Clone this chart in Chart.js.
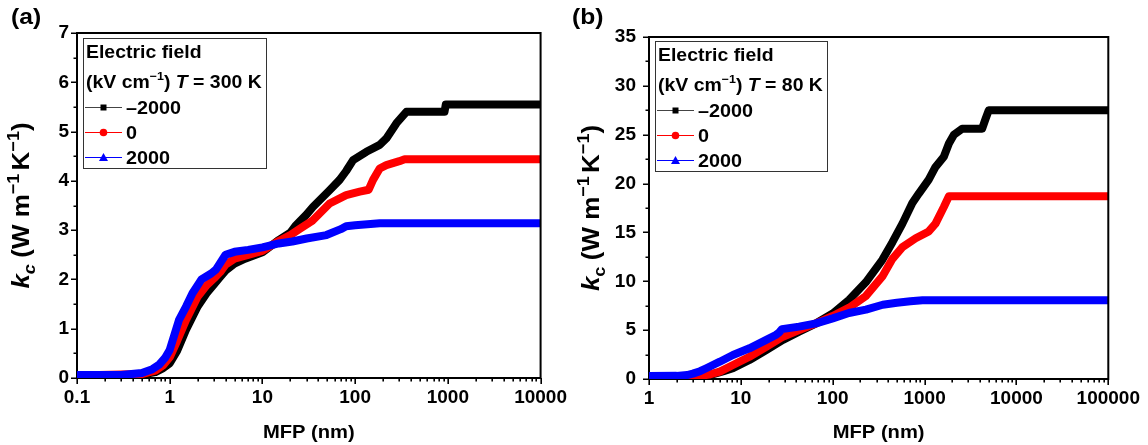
<!DOCTYPE html>
<html>
<head>
<meta charset="utf-8">
<script src="https://cdn.jsdelivr.net/npm/chart.js@4.4.1/dist/chart.umd.min.js"></script>
<style>
  html, body { margin: 0; padding: 0; background: #fff; }
  #wrap { position: relative; width: 1148px; height: 445px; overflow: hidden; background: #fff; }
  .panel { position: absolute; top: 0; height: 445px; }
  canvas { display: block; }
</style>
</head>
<body>
<div id="wrap">
  <div class="panel" style="left:0;width:575px"><canvas id="chartA" width="575" height="445"></canvas></div>
  <div class="panel" style="left:566px;width:582px"><canvas id="chartB" width="582" height="445"></canvas></div>
</div>
<script>
// Electric field series (kV cm^-1)
const fieldLabels = ['\u20132000', '0', '2000'];
const seriesColors = ['#000000', '#ff0000', '#0000ff'];
const seriesMarkers = ['rect', 'circle', 'triangle'];

// (a) T = 300 K : cumulative kc (W m^-1 K^-1) vs MFP (nm)
const mfpA_neg2000 = [0.1, 0.3, 0.5, 0.7, 0.85, 1.0, 1.2, 1.5, 2.0, 2.5, 3.0, 3.5, 4.0, 5.0, 6.5, 10, 15, 20, 23, 30, 35, 53, 68, 80, 95, 132, 184, 217, 279, 357, 920, 950, 10000];
const kcA_neg2000  = [0.05, 0.05, 0.07, 0.12, 0.2, 0.3, 0.55, 0.98, 1.45, 1.72, 1.9, 2.05, 2.18, 2.32, 2.42, 2.55, 2.8, 2.95, 3.1, 3.32, 3.47, 3.81, 4.02, 4.2, 4.42, 4.59, 4.73, 4.86, 5.17, 5.40, 5.40, 5.55, 5.55];

const mfpA_zero = [0.1, 0.5, 0.7, 0.85, 1.0, 1.2, 1.5, 2.0, 2.5, 3.0, 3.5, 4.0, 5.0, 7, 10, 15, 20, 25, 35, 53, 80, 112, 140, 156, 184, 217, 300, 342, 10000];
const kcA_zero  = [0.05, 0.08, 0.15, 0.26, 0.42, 0.75, 1.18, 1.65, 1.88, 2.02, 2.15, 2.3, 2.42, 2.5, 2.58, 2.78, 2.9, 3.02, 3.2, 3.54, 3.71, 3.78, 3.82, 4.02, 4.25, 4.32, 4.4, 4.44, 4.44];

const mfpA_pos2000 = [0.1, 0.3, 0.5, 0.65, 0.77, 0.9, 1.0, 1.26, 1.5, 1.76, 2.2, 2.8, 3.15, 4.0, 5, 7, 10, 15, 21, 30, 49, 70, 80, 100, 184, 10000];
const kcA_pos2000  = [0.06, 0.06, 0.1, 0.18, 0.27, 0.42, 0.57, 1.18, 1.45, 1.72, 2.0, 2.12, 2.2, 2.5, 2.56, 2.6, 2.65, 2.73, 2.77, 2.83, 2.9, 3.02, 3.08, 3.1, 3.14, 3.14];

// (b) T = 80 K
const mfpB_neg2000 = [1, 3.8, 5, 6.5, 8.2, 12.4, 18.9, 28.7, 43, 66, 100, 151, 229, 347, 447, 574, 736, 869, 1110, 1315, 1620, 1840, 2085, 2565, 4225, 4600, 4990, 100000];
const kcB_neg2000  = [0.3, 0.3, 0.5, 0.8, 1.1, 1.94, 2.97, 4.0, 4.85, 5.7, 6.7, 8.1, 9.9, 12.2, 14.0, 15.9, 18.0, 19.0, 20.4, 21.7, 22.75, 24.1, 25.0, 25.6, 25.6, 26.6, 27.5, 27.5];

const mfpB_zero = [1, 3.5, 4.5, 5.9, 8.2, 12.4, 18.9, 28.7, 43, 66, 100, 151, 230, 347, 447, 574, 800, 1110, 1315, 1620, 1840, 100000];
const kcB_zero  = [0.3, 0.3, 0.45, 0.75, 1.43, 2.28, 3.3, 4.33, 5.0, 5.7, 6.45, 7.3, 8.5, 10.5, 12.3, 13.5, 14.4, 15.1, 15.9, 17.6, 18.7, 18.7];

const mfpB_pos2000 = [1, 2, 2.6, 3, 3.6, 4.2, 5.9, 8.2, 12.4, 18.9, 24, 26, 28, 43, 66, 100, 150, 230, 350, 500, 700, 950, 100000];
const kcB_pos2000  = [0.3, 0.32, 0.4, 0.55, 0.8, 1.1, 1.77, 2.46, 3.14, 4.0, 4.5, 4.75, 5.1, 5.36, 5.7, 6.2, 6.75, 7.1, 7.6, 7.8, 7.95, 8.05, 8.05];

// Axis ranges and labelled ticks
const xRangeA = [0.1, 10000];
const xRangeB = [1, 100000];
const yRangeA = [0, 7];
const yRangeB = [0, 35];
const yStepA = 1;
const yStepB = 5;

const FONT = '"Liberation Sans", Arial, Helvetica, sans-serif';
const STRETCH = 1.12;

function pts(xs, ys) { return xs.map((x, i) => ({ x: x, y: ys[i] })); }

function makeDatasets(sets) {
  return sets.map((s, i) => ({
    label: fieldLabels[i],
    data: pts(s[0], s[1]),
    borderColor: seriesColors[i],
    backgroundColor: seriesColors[i],
    pointStyle: seriesMarkers[i],
    borderWidth: 8,
    pointRadius: 0,
    borderJoinStyle: 'round',
    borderCapStyle: 'butt',
    tension: 0,
    order: 2 - i
  }));
}

// rich text helpers (italic, sub/superscript runs)
function runFont(r, size) {
  return (r.italic ? 'italic ' : '') + 'bold ' + size + 'px ' + FONT;
}
function runSize(r, size, k) { return (r.sub || r.sup) ? size * (k || 0.64) : size; }
function runsWidth(ctx, runs, size, k) {
  let w = 0;
  for (const r of runs) {
    ctx.font = runFont(r, runSize(r, size, k));
    w += ctx.measureText(r.t).width + (r.gap || 0);
  }
  return w;
}
function drawRuns(ctx, runs, x, y, size, sx, align, k) {
  const w = runsWidth(ctx, runs, size, k) * sx;
  const x0 = align === 'center' ? x - w / 2 : x;
  ctx.save();
  ctx.translate(x0, y);
  ctx.scale(sx, 1);
  ctx.textAlign = 'left';
  ctx.textBaseline = 'alphabetic';
  let px = 0;
  for (const r of runs) {
    const s = runSize(r, size, k);
    ctx.font = runFont(r, s);
    const dy = r.sub ? size * 0.26 : (r.sup ? -size * 0.42 : 0);
    ctx.fillText(r.t, px, dy);
    px += ctx.measureText(r.t).width + (r.gap || 0);
  }
  ctx.restore();
  return w;
}

function drawMarker(ctx, style, x, y, color) {
  ctx.fillStyle = color;
  ctx.beginPath();
  if (style === 'rect') {
    ctx.rect(x - 3, y - 3, 6, 6);
  } else if (style === 'circle') {
    ctx.arc(x, y, 3.8, 0, Math.PI * 2);
  } else {
    ctx.moveTo(x, y - 4.5);
    ctx.lineTo(x + 4.5, y + 3.5);
    ctx.lineTo(x - 4.5, y + 3.5);
    ctx.closePath();
  }
  ctx.fill();
}

const isDecade = v => Math.abs(Math.log10(v) - Math.round(Math.log10(v))) < 1e-9;

// frame, tick marks, titles and legend box
const decorPlugin = {
  id: 'decor',
  afterDraw(chart, args, o) {
    const ctx = chart.ctx;
    const ca = chart.chartArea;
    const xs = chart.scales.x, ys = chart.scales.y;
    ctx.save();
    ctx.fillStyle = '#000';
    ctx.strokeStyle = '#000';

    // top and right frame
    ctx.lineWidth = 2;
    ctx.beginPath();
    ctx.moveTo(ca.left - 1, ca.top);
    ctx.lineTo(ca.right, ca.top);
    ctx.lineTo(ca.right, ca.bottom + 1);
    ctx.stroke();

    // tick marks (outside, majors longer)
    ctx.lineWidth = 1.6;
    ctx.beginPath();
    xs.ticks.forEach(t => {
      const p = Math.round(xs.getPixelForValue(t.value)) + 0.2;
      const len = isDecade(t.value) ? 6 : 3.5;
      ctx.moveTo(p, ca.bottom);
      ctx.lineTo(p, ca.bottom + len);
    });
    ys.ticks.forEach(t => {
      const p = Math.round(ys.getPixelForValue(t.value)) + 0.2;
      const major = Math.abs(t.value / o.yStep - Math.round(t.value / o.yStep)) < 1e-9;
      const len = major ? 6 : 3.5;
      ctx.moveTo(ca.left, p);
      ctx.lineTo(ca.left - len, p);
    });
    ctx.stroke();

    // panel letter
    drawRuns(ctx, [{ t: o.letter }], o.letterX, 24, 22, 1.12, 'left');

    // x-axis title
    drawRuns(ctx, [{ t: 'MFP (nm)' }], (ca.left + ca.right) / 2, 438, 18, STRETCH, 'center');

    // y-axis title (rotated)
    ctx.save();
    ctx.translate(o.yTitleX, (ca.top + ca.bottom) / 2);
    ctx.rotate(-Math.PI / 2);
    drawRuns(ctx, [
      { t: 'k', italic: true },
      { t: 'c', sub: true, italic: o.italicSub, gap: 6 },
      { t: '(W m' },
      { t: '\u22121', sup: true, gap: 3 },
      { t: 'K' },
      { t: '\u22121', sup: true },
      { t: ')' }
    ], 0, 8, 24, 1.08, 'center', 0.7);
    ctx.restore();

    // legend box
    const bx = ca.left + 6, by = ca.top + o.legendTop;
    const tx = ca.left + 9;
    const header2 = [
      { t: '(kV cm' },
      { t: '\u22121', sup: true },
      { t: ')', gap: 5 },
      { t: 'T', italic: true },
      { t: ' = ' + o.temp + ' K' }
    ];
    drawRuns(ctx, [{ t: 'Electric field' }], tx, by + 20, 18, 1.08, 'left');
    const w2 = drawRuns(ctx, header2, tx, by + 50, 18, 1.08, 'left');
    const bw = (tx + w2 + 4) - bx;
    ctx.lineWidth = 1;
    ctx.strokeStyle = '#333';
    ctx.strokeRect(Math.round(bx) + 0.5, Math.round(by) + 0.5, Math.round(bw), 130);

    const rows = [by + 69, by + 94, by + 118.5];
    chart.data.datasets.forEach((ds, i) => {
      const ry = Math.round(rows[i]) + 0.5;
      ctx.strokeStyle = i === 0 ? '#444' : ds.borderColor;
      ctx.lineWidth = 1;
      ctx.beginPath();
      ctx.moveTo(ca.left + 8, ry);
      ctx.lineTo(ca.left + 45, ry);
      ctx.stroke();
      drawMarker(ctx, ds.pointStyle, ca.left + 26.5, ry, ds.borderColor);
      ctx.fillStyle = '#000';
      drawRuns(ctx, [{ t: ds.label }], ca.left + 49, ry + 6.5, 18, 1.1, 'left');
    });
    ctx.restore();
  }
};

function logTicks(min, max) {
  const out = [];
  const d0 = Math.round(Math.log10(min)), d1 = Math.round(Math.log10(max));
  for (let d = d0; d <= d1; d++) {
    for (let m = 1; m <= 9; m++) {
      const v = m * Math.pow(10, d);
      if (v > max * 1.0000001) break;
      out.push({ value: d < 0 ? parseFloat(v.toFixed(-d)) : v });
    }
  }
  return out;
}

function makeChart(id, datasets, cfg) {
  const tickFont = { family: FONT, weight: 'bold', size: 19 };
  return new Chart(document.getElementById(id), {
    type: 'line',
    data: { datasets: datasets },
    options: {
      responsive: false,
      animation: false,
      devicePixelRatio: 1,
      layout: { padding: { top: cfg.top, right: cfg.padRight, left: 0, bottom: 0 } },
      plugins: {
        legend: { display: false },
        tooltip: { enabled: false },
        decor: cfg.decor
      },
      scales: {
        x: {
          type: 'logarithmic',
          min: cfg.xRange[0],
          max: cfg.xRange[1],
          grid: { display: false, drawTicks: false },
          border: { display: true, color: '#000', width: 2 },
          afterBuildTicks: s => { s.ticks = logTicks(cfg.xRange[0], cfg.xRange[1]); },
          afterFit: s => { s.height = 445 - cfg.bottom; },
          ticks: {
            autoSkip: false, maxRotation: 0, minRotation: 0, padding: 8,
            color: '#000', font: tickFont,
            callback: v => isDecade(v) ? (v < 1 ? String(v) : String(Math.round(v))) : ''
          }
        },
        y: {
          type: 'linear',
          min: cfg.yRange[0],
          max: cfg.yRange[1],
          grid: { display: false, drawTicks: false },
          border: { display: true, color: '#000', width: 2 },
          afterFit: s => { s.width = cfg.left; },
          ticks: {
            stepSize: cfg.yStep / 2, autoSkip: false, padding: cfg.yPad,
            color: '#000', font: tickFont,
            callback: v => (Math.abs(v / cfg.yStep - Math.round(v / cfg.yStep)) < 1e-9) ? String(v) : ''
          }
        }
      }
    },
    plugins: [decorPlugin]
  });
}

makeChart('chartA', makeDatasets([
  [mfpA_neg2000, kcA_neg2000],
  [mfpA_zero, kcA_zero],
  [mfpA_pos2000, kcA_pos2000]
]), {
  xRange: xRangeA, yRange: yRangeA, yStep: yStepA,
  left: 77, top: 33, bottom: 378, padRight: 575 - 541, yPad: 8,
  decor: { letter: '(a)', letterX: 11, yTitleX: 21, temp: '300', italicSub: true, yStep: yStepA, legendTop: 5 }
});

makeChart('chartB', makeDatasets([
  [mfpB_neg2000, kcB_neg2000],
  [mfpB_zero, kcB_zero],
  [mfpB_pos2000, kcB_pos2000]
]), {
  xRange: xRangeB, yRange: yRangeB, yStep: yStepB,
  left: 83, top: 37, bottom: 379, padRight: 582 - 544, yPad: 13,
  decor: { letter: '(b)', letterX: 6, yTitleX: 25, temp: '80', italicSub: false, yStep: yStepB, legendTop: 4 }
});
</script>
</body>
</html>
